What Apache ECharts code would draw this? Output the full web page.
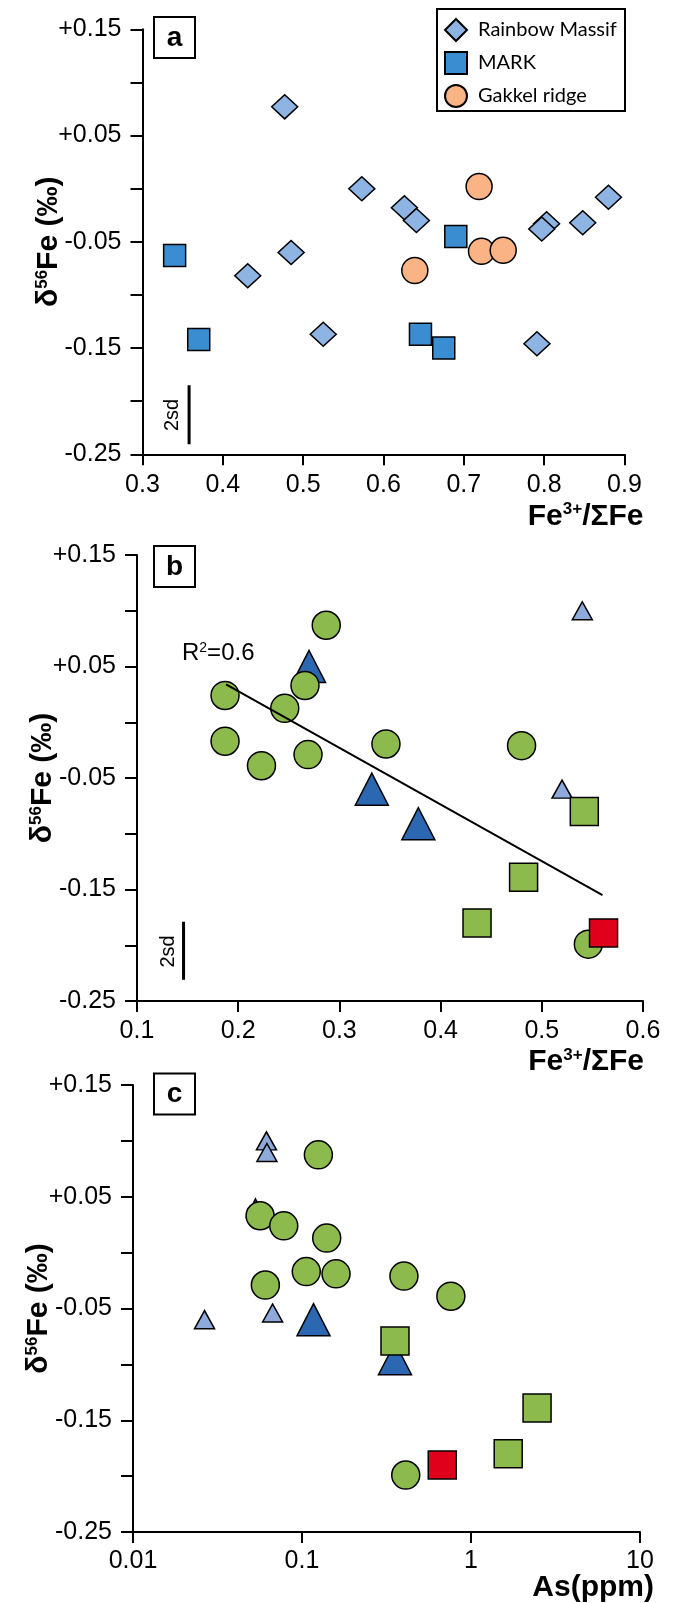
<!DOCTYPE html>
<html>
<head>
<meta charset="utf-8">
<script src="https://cdn.jsdelivr.net/npm/echarts@6/dist/echarts.min.js"></script>
<style>
  html, body { margin: 0; padding: 0; background: #fff; }
  #frame { width: 678px; height: 1603px; }
</style>
</head>
<body>
<div id="frame"></div>
<script>
// panel a : delta56Fe vs Fe3+/SumFe
const rainbowMassif = [[0.477, 0.077], [0.573, 0.0], [0.626, -0.018], [0.641, -0.030], [0.485, -0.060],
  [0.431, -0.082], [0.525, -0.137], [0.791, -0.146], [0.803, -0.033], [0.797, -0.038], [0.848, -0.032], [0.880, -0.008]];
const mark = [[0.340, -0.063], [0.370, -0.142], [0.646, -0.137], [0.675, -0.150], [0.690, -0.045]];
const gakkel = [[0.719, 0.002], [0.639, -0.077], [0.722, -0.059], [0.749, -0.058]];

// panel b : delta56Fe vs Fe3+/SumFe
const bLightTri = [[0.540, 0.100], [0.520, -0.060]];
const bDarkTri = [[0.270, 0.050], [0.332, -0.060], [0.378, -0.091]];
const bCircles = [[0.287, 0.087], [0.187, 0.024], [0.266, 0.033], [0.246, 0.0125], [0.187, -0.017],
  [0.223, -0.039], [0.269, -0.029], [0.346, -0.0195], [0.480, -0.021], [0.546, -0.199]];
const bSquares = [[0.542, -0.080], [0.482, -0.139], [0.436, -0.180]];
const bRed = [[0.561, -0.189]];
const bTrend = [[0.188, 0.034], [0.560, -0.155]];

// panel c : delta56Fe vs As (ppm)
const cLightTri = [[0.0616, 0.100], [0.062, 0.0896], [0.067, -0.054], [0.0265, -0.060]];
const cDarkTri = [[0.117, -0.060], [0.355, -0.095]];
const cHiddenTri = [[0.053, 0.040]];
const cCircles = [[0.125, 0.0875], [0.0565, 0.033], [0.078, 0.024], [0.140, 0.013], [0.106, -0.017],
  [0.159, -0.019], [0.0607, -0.029], [0.401, -0.021], [0.760, -0.039], [0.411, -0.199]];
const cSquares = [[0.355, -0.079], [2.46, -0.139], [1.66, -0.180]];
const cRed = [[0.676, -0.190]];

// error bars (2sd)
const sdA = [[0.358, -0.2405], [0.358, -0.185]];
const sdB = [[0.146, -0.231], [0.146, -0.179]];

const font = 'Liberation Sans, Arial, sans-serif';
const colRainbow = '#8db4e2', colMark = '#3b8dd2', colGakkel = '#fab384';
const colGreen = '#8cba4c', colDark = '#2c68b2', colLight = '#8eaadb', colRed = '#e1001b';

const supRich = {
  n: { fontSize: 30, fontWeight: 'bold', fontFamily: font, lineHeight: 30, color: '#000' },
  s: { fontSize: 17, fontWeight: 'bold', fontFamily: font, lineHeight: 17, verticalAlign: 'top', color: '#000' }
};

function yFmt(v) {
  const k = Math.round(v * 100);
  if (k % 10 === 0) return '';
  return (k > 0 ? '+' : '') + (k / 100).toFixed(2);
}

function yAxis(gi) {
  return {
    type: 'value', gridIndex: gi, min: -0.25, max: 0.15, interval: 0.05,
    name: '{n|δ}{s|56}{n|Fe (‰)}', nameLocation: 'middle', nameRotate: 90, nameGap: 79,
    nameMoveOverlap: false,
    nameTextStyle: { rich: supRich },
    axisLine: { show: true, lineStyle: { color: '#000', width: 2 } },
    axisTick: { show: true, length: 12, lineStyle: { color: '#000', width: 2 } },
    axisLabel: { formatter: yFmt, fontSize: 25, fontFamily: font, color: '#000', margin: 21 },
    splitLine: { show: false }
  };
}

function xAxis(gi, extra, name, gap, pad) {
  return Object.assign({
    gridIndex: gi,
    name: name, nameLocation: 'end', nameGap: gap, nameMoveOverlap: false,
    nameTextStyle: { align: 'right', verticalAlign: 'top', padding: [pad, 0, 0, 0], rich: supRich },
    axisLine: { show: true, onZero: false, lineStyle: { color: '#000', width: 2 } },
    axisTick: { show: true, length: 11, lineStyle: { color: '#000', width: 2 } },
    axisLabel: { fontSize: 25, fontFamily: font, color: '#000', margin: 18 },
    splitLine: { show: false }
  }, extra);
}

function scatter(name, data, gi, symbol, size, color, z) {
  return {
    name: name, type: 'scatter', xAxisIndex: gi, yAxisIndex: gi, data: data,
    symbol: symbol, symbolSize: size, z: z,
    itemStyle: { color: color, borderColor: '#000', borderWidth: 1.5, opacity: 1 },
    emphasis: { disabled: true }
  };
}

function line(data, gi, width, z) {
  return {
    type: 'line', xAxisIndex: gi, yAxisIndex: gi, data: data, symbol: 'none', z: z,
    lineStyle: { color: '#000', width: width }, silent: true
  };
}

function panelLabel(letter, top) {
  return {
    type: 'group', left: 153, top: top,
    children: [
      { type: 'rect', shape: { x: 0, y: 0, width: 41, height: 41 },
        style: { fill: '#fff', stroke: '#000', lineWidth: 2 } },
      { type: 'text', x: 20.5, y: 21,
        style: { text: letter, fontSize: 28, fontWeight: 'bold', fontFamily: font,
          fill: '#000', align: 'center', verticalAlign: 'middle' } }
    ]
  };
}

function sdLabel(x, y) {
  return {
    type: 'text', x: x, y: y, rotation: Math.PI / 2,
    style: { text: '2sd', fontSize: 20, fontFamily: font, fill: '#000', align: 'center', verticalAlign: 'middle' }
  };
}

const chart = echarts.init(document.getElementById('frame'), null, { renderer: 'canvas' });

chart.setOption({
  animation: false,
  backgroundColor: '#fff',
  grid: [
    { left: 142.5, top: 29.3, width: 482, height: 425, outerBoundsMode: 'none', containLabel: false },
    { left: 137, top: 555, width: 506, height: 446, outerBoundsMode: 'none', containLabel: false },
    { left: 133, top: 1085, width: 507, height: 447, outerBoundsMode: 'none', containLabel: false }
  ],
  xAxis: [
    xAxis(0, { type: 'value', min: 0.3, max: 0.9, interval: 0.1,
      axisLabel: { fontSize: 25, fontFamily: font, color: '#000', margin: 18, formatter: v => v.toFixed(1) } },
      '{n|Fe}{s|3+}{n|/ΣFe}', 19, 47),
    xAxis(1, { type: 'value', min: 0.1, max: 0.6, interval: 0.1,
      axisLabel: { fontSize: 25, fontFamily: font, color: '#000', margin: 18, formatter: v => v.toFixed(1) } },
      '{n|Fe}{s|3+}{n|/ΣFe}', 1, 46),
    xAxis(2, { type: 'log', logBase: 10, min: 0.01, max: 10, minorTick: { show: false },
      axisLabel: { fontSize: 25, fontFamily: font, color: '#000', margin: 17,
        formatter: v => String(parseFloat(Number(v).toPrecision(3))) } },
      '{n|As(ppm)}', 14, 41)
  ],
  yAxis: [yAxis(0), yAxis(1), yAxis(2)],
  legend: {
    orient: 'vertical', left: 444, top: 18, padding: 0,
    itemWidth: 22, itemHeight: 22, itemGap: 9,
    data: ['Rainbow Massif', 'MARK', 'Gakkel ridge'],
    textStyle: { fontFamily: 'Lato, sans-serif', fontSize: 20, color: '#000', padding: [0, 0, 0, 6] },
    selectedMode: false
  },
  series: [
    scatter('Rainbow Massif', rainbowMassif, 0, 'diamond', [26, 24], colRainbow, 3),
    scatter('MARK', mark, 0, 'rect', 22, colMark, 3),
    scatter('Gakkel ridge', gakkel, 0, 'circle', 26, colGakkel, 3),
    line(sdA, 0, 3, 2),

    scatter('b light', bLightTri, 1, 'triangle', [20, 18], colLight, 3),
    scatter('b dark', bDarkTri, 1, 'triangle', [33, 32], colDark, 4),
    scatter('b circles', bCircles, 1, 'circle', 28, colGreen, 5),
    scatter('b squares', bSquares, 1, 'rect', 28, colGreen, 6),
    scatter('b red', bRed, 1, 'rect', 28, colRed, 7),
    line(bTrend, 1, 2, 8),
    line(sdB, 1, 3, 2),

    scatter('c light', cLightTri, 2, 'triangle', [20, 18], colLight, 3),
    scatter('c hidden', cHiddenTri, 2, 'triangle', [18, 18], colDark, 4),
    scatter('c dark', cDarkTri, 2, 'triangle', [33, 32], colDark, 4),
    scatter('c circles', cCircles, 2, 'circle', 28, colGreen, 5),
    scatter('c squares', cSquares, 2, 'rect', 28, colGreen, 6),
    scatter('c red', cRed, 2, 'rect', 28, colRed, 7)
  ],
  graphic: [
    { type: 'rect', shape: { x: 437, y: 9, width: 188, height: 102 },
      style: { fill: 'none', stroke: '#000', lineWidth: 2 }, z: 0 },
    panelLabel('a', 16),
    panelLabel('b', 545),
    panelLabel('c', 1072.5),
    sdLabel(172, 415),
    sdLabel(168.5, 951.5),
    { type: 'text', x: 182, y: 653,
      style: { text: '{r|R}{s|2}{r|=0.6}', fill: '#000', align: 'left', verticalAlign: 'middle',
        rich: {
          r: { fontSize: 24, fontFamily: font, lineHeight: 24, color: '#000' },
          s: { fontSize: 14, fontFamily: font, lineHeight: 14, verticalAlign: 'top', color: '#000' }
        } } }
  ]
});
</script>
</body>
</html>
